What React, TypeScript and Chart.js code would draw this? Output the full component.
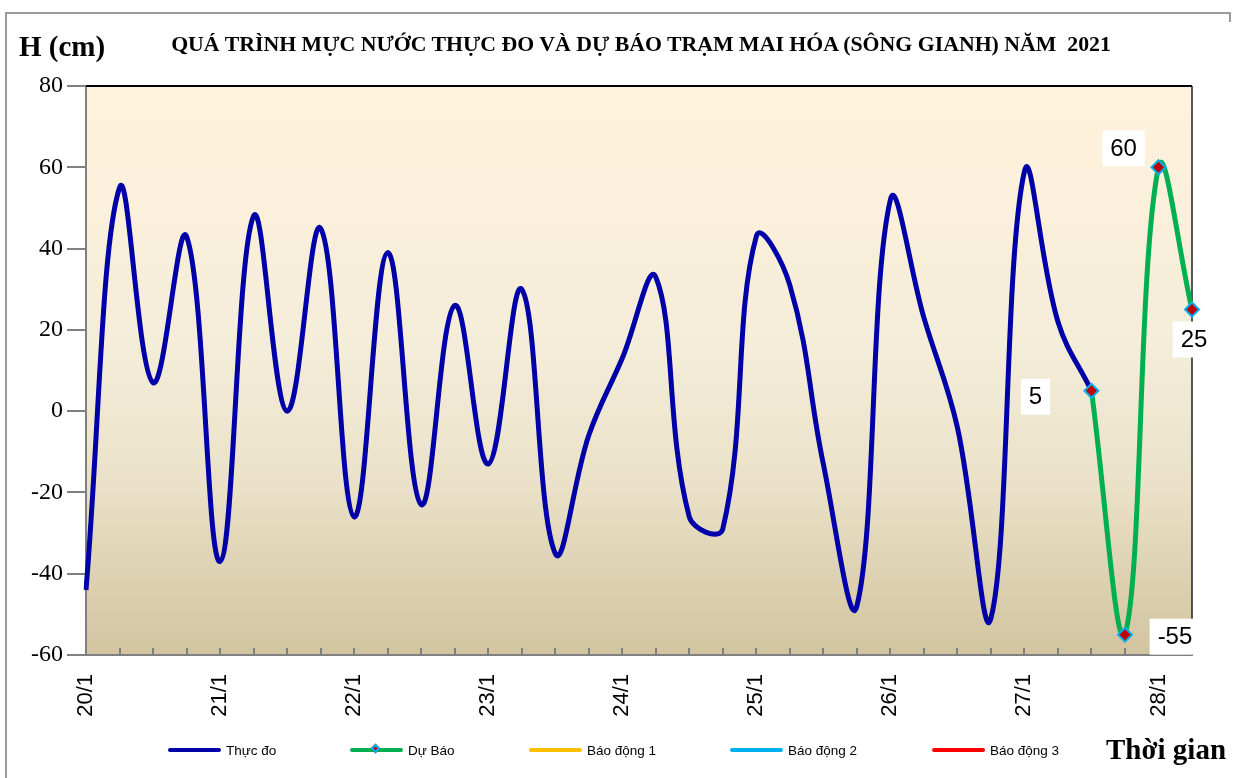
import React, { useEffect, useRef } from 'react';
import { Chart, registerables } from 'chart.js';

Chart.register(...registerables);

// 6-hourly categories from 20/1 00h to 28/1 06h
const CATEGORIES = [
  '20/1 00h', '20/1 06h', '20/1 12h', '20/1 18h',
  '21/1 00h', '21/1 06h', '21/1 12h', '21/1 18h',
  '22/1 00h', '22/1 06h', '22/1 12h', '22/1 18h',
  '23/1 00h', '23/1 06h', '23/1 12h', '23/1 18h',
  '24/1 00h', '24/1 06h', '24/1 12h', '24/1 18h',
  '25/1 00h', '25/1 06h', '25/1 12h', '25/1 18h',
  '26/1 00h', '26/1 06h', '26/1 12h', '26/1 18h',
  '27/1 00h', '27/1 06h', '27/1 12h', '27/1 18h',
  '28/1 00h', '28/1 06h',
];

const DAY_TICK_LABELS = ['20/1', '21/1', '22/1', '23/1', '24/1', '25/1', '26/1', '27/1', '28/1'];

const THUC_DO = [
  -44, 55, 7, 43,
  -37, 48, 0, 45,
  -26, 39, -23, 26,
  -13, 30, -35, -6,
  13, 33, -26, -29,
  43, 31, -13, -48,
  52, 23, -4, -51,
  59, 22, 5, null,
  null, null,
];

const DU_BAO = [
  null, null, null, null, null, null, null, null, null, null,
  null, null, null, null, null, null, null, null, null, null,
  null, null, null, null, null, null, null, null, null, null,
  5, -55, 60, 25,
];

const BAO_DONG_1: (number | null)[] = [];
const BAO_DONG_2: (number | null)[] = [];
const BAO_DONG_3: (number | null)[] = [];

const Y_MIN = -60;
const Y_MAX = 80;
const Y_STEP = 20;

// label placement relative to each forecast point (dx, dy in px)
const LABEL_OFFSETS: Record<number, [number, number]> = {
  30: [-56, 6],
  31: [50, 2],
  32: [-35, -19],
  33: [2, 30],
};

const COLORS = {
  thucDo: '#0000A8',
  duBao: '#00B050',
  bd1: '#FFC000',
  bd2: '#00B0F0',
  bd3: '#FF0000',
  marker: '#C00000',
  markerBorder: '#00B0F0',
};

const decorPlugin = {
  id: 'decor',
  beforeDraw(chart: any) {
    const { ctx, chartArea } = chart;
    const { left, top, right, bottom } = chartArea;
    const g = ctx.createLinearGradient(0, top, 0, bottom);
    g.addColorStop(0, '#FFF2DC');
    g.addColorStop(0.45, '#F4EDD9');
    g.addColorStop(0.7, '#EAE1C8');
    g.addColorStop(1, '#D2C4A0');
    ctx.save();
    ctx.fillStyle = g;
    ctx.fillRect(left, top, right - left, bottom - top);
    ctx.restore();
  },
  beforeDatasetsDraw(chart: any) {
    const { ctx, chartArea } = chart;
    const { left, top, right, bottom } = chartArea;
    const xs = chart.scales.x;
    ctx.save();
    // inward tick marks on the time axis
    ctx.strokeStyle = '#808080';
    ctx.lineWidth = 2;
    for (let i = 1; i < CATEGORIES.length; i++) {
      const px = Math.round(xs.getPixelForValue(i));
      ctx.beginPath();
      ctx.moveTo(px, bottom);
      ctx.lineTo(px, bottom - 7);
      ctx.stroke();
    }
    // top and right frame of the plot area
    ctx.strokeStyle = '#000000';
    ctx.lineWidth = 2;
    ctx.beginPath();
    ctx.moveTo(left, top);
    ctx.lineTo(right, top);
    ctx.stroke();
    ctx.strokeStyle = '#202020';
    ctx.lineWidth = 1.5;
    ctx.beginPath();
    ctx.moveTo(right, top);
    ctx.lineTo(right, bottom);
    ctx.stroke();
    ctx.restore();
  },
  afterDatasetsDraw(chart: any) {
    const { ctx } = chart;
    const meta = chart.getDatasetMeta(1);
    ctx.save();
    ctx.font = '24px "Liberation Sans", Arial, sans-serif';
    ctx.textAlign = 'center';
    ctx.textBaseline = 'middle';
    DU_BAO.forEach((v, i) => {
      if (v === null) return;
      const pt = meta.data[i];
      const off = LABEL_OFFSETS[i] || [0, -25];
      const cx = pt.x + off[0];
      const cy = pt.y + off[1];
      const text = String(v);
      const w = ctx.measureText(text).width + 16;
      const h = 36;
      ctx.fillStyle = '#FFFFFF';
      ctx.fillRect(cx - w / 2, cy - h / 2, w, h);
      ctx.fillStyle = '#000000';
      ctx.fillText(text, cx, cy + 1);
    });
    ctx.restore();
  },
};

const legendItems = [
  { label: 'Thực đo', color: COLORS.thucDo, left: 168, marker: false },
  { label: 'Dự Báo', color: COLORS.duBao, left: 350, marker: true },
  { label: 'Báo động 1', color: COLORS.bd1, left: 529, marker: false },
  { label: 'Báo động 2', color: COLORS.bd2, left: 730, marker: false },
  { label: 'Báo động 3', color: COLORS.bd3, left: 932, marker: false },
];

export default function App() {
  const canvasRef = useRef<HTMLCanvasElement | null>(null);

  useEffect(() => {
    const canvas = canvasRef.current;
    if (!canvas) return;
    const chart = new Chart(canvas, {
      type: 'line',
      data: {
        labels: CATEGORIES,
        datasets: [
          {
            label: 'Thực đo',
            data: THUC_DO,
            borderColor: COLORS.thucDo,
            backgroundColor: COLORS.thucDo,
            borderWidth: 5,
            pointRadius: 0,
            tension: 0.4,
            fill: false,
            order: 2,
          },
          {
            label: 'Dự Báo',
            data: DU_BAO,
            borderColor: COLORS.duBao,
            backgroundColor: COLORS.duBao,
            borderWidth: 5,
            pointStyle: 'rectRot',
            pointRadius: 7,
            pointBackgroundColor: COLORS.marker,
            pointBorderColor: COLORS.markerBorder,
            pointBorderWidth: 2,
            tension: 0.4,
            fill: false,
            order: 1,
          },
          { label: 'Báo động 1', data: BAO_DONG_1, borderColor: COLORS.bd1, borderWidth: 4, pointRadius: 0 },
          { label: 'Báo động 2', data: BAO_DONG_2, borderColor: COLORS.bd2, borderWidth: 4, pointRadius: 0 },
          { label: 'Báo động 3', data: BAO_DONG_3, borderColor: COLORS.bd3, borderWidth: 4, pointRadius: 0 },
        ],
      },
      options: {
        responsive: false,
        animation: false,
        layout: { padding: { top: 86, right: 45, bottom: 53, left: 0 } },
        plugins: {
          legend: { display: false },
          title: { display: false },
          tooltip: { enabled: false },
        },
        scales: {
          x: {
            type: 'category',
            offset: false,
            grid: { display: false },
            border: { display: true, color: '#808080', width: 2 },
            ticks: {
              autoSkip: false,
              minRotation: 90,
              maxRotation: 90,
              padding: 11,
              color: '#000000',
              font: { family: '"Liberation Sans", Arial, sans-serif', size: 22 },
              callback: (_v: any, i: number) => (i % 4 === 0 ? DAY_TICK_LABELS[i / 4] : ''),
            },
            afterFit: (s: any) => {
              s.height = 70;
            },
          },
          y: {
            min: Y_MIN,
            max: Y_MAX,
            grid: {
              drawOnChartArea: false,
              drawTicks: true,
              tickLength: 19,
              color: '#808080',
              lineWidth: 2,
            },
            border: { display: true, color: '#808080', width: 2 },
            ticks: {
              stepSize: Y_STEP,
              padding: 4,
              color: '#000000',
              font: { family: '"Liberation Serif", "Times New Roman", serif', size: 24 },
            },
            afterFit: (s: any) => {
              s.width = 86;
            },
          },
        },
      },
      plugins: [decorPlugin],
    });
    return () => chart.destroy();
  }, []);

  return (
    <div style={{ position: 'absolute', left: 0, top: 0, width: 1237, height: 778, background: '#FFFFFF', overflow: 'hidden' }}>
      <div style={{ position: 'absolute', left: 5, top: 12, width: 1226, height: 800, borderTop: '2px solid #9A9A9A', borderLeft: '2px solid #9A9A9A', boxSizing: 'border-box' }} />
      <div style={{ position: 'absolute', left: 1229, top: 12, width: 2, height: 10, background: '#9A9A9A' }} />
      <canvas ref={canvasRef} width={1237} height={778} style={{ position: 'absolute', left: 0, top: 0, width: 1237, height: 778 }} />
      <div style={{ position: 'absolute', left: 19, top: 29, fontFamily: '"Liberation Serif", "Times New Roman", serif', fontWeight: 'bold', fontSize: 29, lineHeight: '34px', whiteSpace: 'nowrap', color: '#000' }}>H (cm)</div>
      <div style={{ position: 'absolute', left: 0, width: 1282, top: 31, textAlign: 'center', fontFamily: '"Liberation Serif", "Times New Roman", serif', fontWeight: 'bold', fontSize: 21.8, lineHeight: '26px', whiteSpace: 'pre', color: '#000' }}>
        {'QUÁ TRÌNH MỰC NƯỚC THỰC ĐO VÀ DỰ BÁO TRẠM MAI HÓA (SÔNG GIANH) NĂM  2021'}
      </div>
      {legendItems.map((it) => (
        <div key={it.label} style={{ position: 'absolute', left: it.left, top: 740, height: 20, display: 'flex', alignItems: 'center', whiteSpace: 'nowrap' }}>
          <div style={{ position: 'relative', width: 53, height: 4, background: it.color, borderRadius: 2 }}>
            {it.marker && (
              <div style={{ position: 'absolute', left: 22, top: -3, width: 7, height: 7, background: COLORS.marker, border: `2px solid ${COLORS.markerBorder}`, boxSizing: 'border-box', transform: 'rotate(45deg)' }} />
            )}
          </div>
          <span style={{ marginLeft: 5, fontFamily: '"Liberation Sans", Arial, sans-serif', fontSize: 13.5, color: '#000' }}>{it.label}</span>
        </div>
      ))}
      <div style={{ position: 'absolute', left: 1106, top: 732, fontFamily: '"Liberation Serif", "Times New Roman", serif', fontWeight: 'bold', fontSize: 29, lineHeight: '34px', whiteSpace: 'nowrap', color: '#000' }}>Thời gian</div>
    </div>
  );
}
